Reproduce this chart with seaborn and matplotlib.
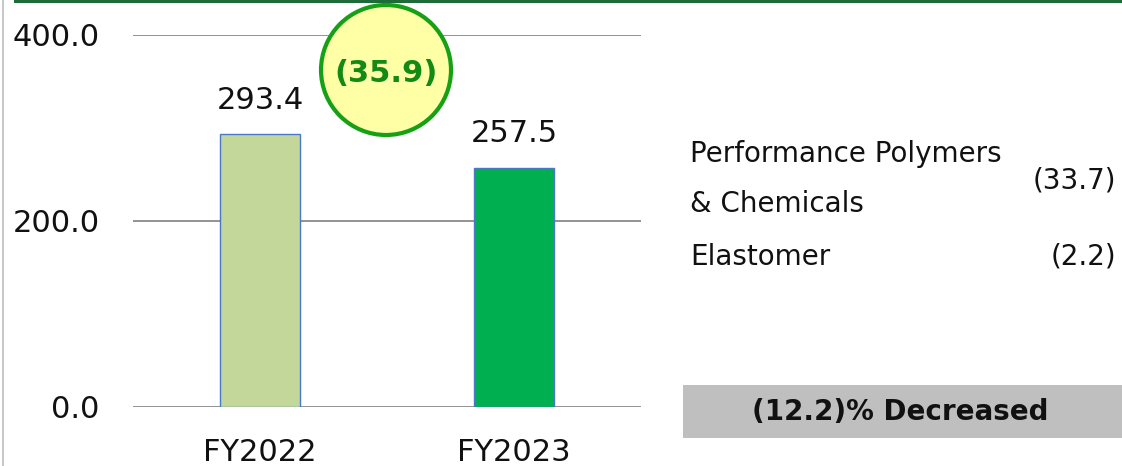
import matplotlib
matplotlib.use("Agg")
import matplotlib.pyplot as plt
import seaborn as sns
import pandas as pd
from matplotlib.patches import Circle, Rectangle

# ---- data ----
years = ["FY2022", "FY2023"]
sales = [293.4, 257.5]
bar_labels = ["293.4", "257.5"]
bar_colors = ["#c4d79b", "#00b050"]
y_ticks = [0, 200, 400]
y_tick_labels = ["0.0", "200.0", "400.0"]
change_total = "(35.9)"
segments = ["Performance Polymers\n& Chemicals", "Elastomer"]
segment_changes = ["(33.7)", "(2.2)"]
pct_text = "(12.2)% Decreased"

sns.set_theme(style="white")
plt.rcParams["font.family"] = ["DejaVu Sans"]

W, H = 1122, 466
fig = plt.figure(figsize=(W / 100, H / 100), dpi=100)

# main bar axes (pixel geometry)
ax_l, ax_r, ax_t, ax_b = 133, 641, 35, 407
ax = fig.add_axes([ax_l / W, (H - ax_b) / H, (ax_r - ax_l) / W, (ax_b - ax_t) / H])

df = pd.DataFrame({"year": years, "sales": sales})
sns.barplot(data=df, x="year", y="sales", hue="year", palette=bar_colors,
            saturation=1, width=80 / 254, edgecolor="#4a78c8", linewidth=1.0,
            legend=False, ax=ax, zorder=3)
ax.set_xlim(-0.5, 1.5)
ax.set_ylim(0, 400)
ax.set_yticks(y_ticks)
ax.set_yticklabels(y_tick_labels, fontsize=22, color="#111111")
ax.tick_params(axis="y", length=0, pad=24)
ax.tick_params(axis="x", length=0, pad=22, labelsize=22, labelcolor="#111111")
ax.set_xlabel("")
ax.set_ylabel("")
for s in ax.spines.values():
    s.set_visible(False)
ax.yaxis.grid(True, color="#808080", linewidth=1.2, zorder=0)
ax.set_axisbelow(True)

for p, lab in zip(ax.patches, bar_labels):
    ax.annotate(lab, (p.get_x() + p.get_width() / 2, p.get_height()),
                xytext=(0, 14), textcoords="offset points", ha="center",
                va="bottom", fontsize=22, color="#111111")

# overlay axes in pixel coordinates for decorations
ov = fig.add_axes([0, 0, 1, 1], zorder=5)
ov.set_xlim(0, W)
ov.set_ylim(H, 0)
ov.axis("off")
ov.patch.set_alpha(0)

# top green rule and left grey rule
ov.add_patch(Rectangle((14, 0), W - 14, 2.5, color="#1e6b3a", lw=0))
ov.add_patch(Rectangle((2.5, 0), 2, H, color="#c8c8c8", lw=0))

# circle with total change
ov.add_patch(Circle((386, 70), 65, facecolor="#ffffa6", edgecolor="#16a016", lw=3))
ov.text(386, 74, change_total, ha="center", va="center", fontsize=22,
        fontweight="bold", color="#138a13")

# segment breakdown
ov.text(690, 179, segments[0], ha="left", va="center", fontsize=20,
        color="#111111", linespacing=2.0)
ov.text(1116, 180, segment_changes[0], ha="right", va="center", fontsize=20,
        color="#111111")
ov.text(690, 257, segments[1], ha="left", va="center", fontsize=20,
        color="#111111")
ov.text(1116, 257, segment_changes[1], ha="right", va="center", fontsize=20,
        color="#111111")

# grey box
ov.add_patch(Rectangle((683, 385), W - 683, 53, color="#bfbfbf", lw=0))
ov.text(900, 412, pct_text, ha="center", va="center", fontsize=20,
        fontweight="bold", color="#111111")

fig.savefig("out.png", dpi=100, facecolor="white")
